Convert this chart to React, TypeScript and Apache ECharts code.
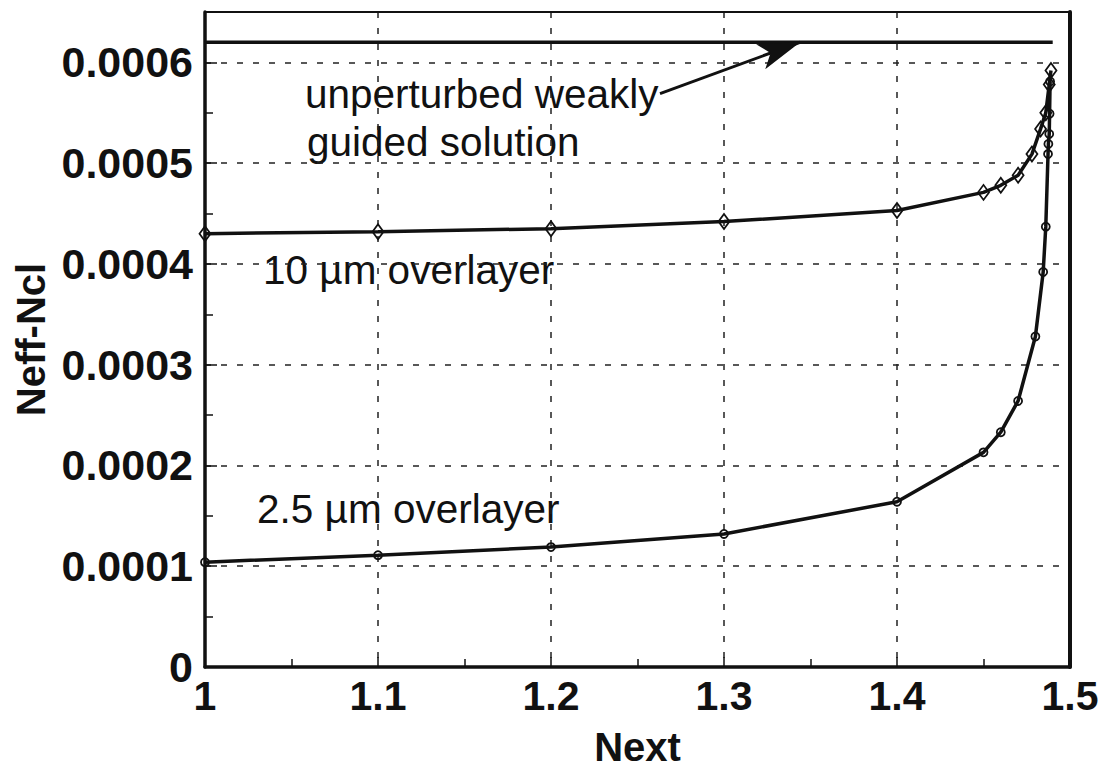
import React, { useEffect, useRef } from "react";
import * as echarts from "echarts";

// ---- data ----
const xTickLabels = ["1", "1.1", "1.2", "1.3", "1.4", "1.5"];
const yTickLabels = ["0", "0.0001", "0.0002", "0.0003", "0.0004", "0.0005", "0.0006"];

const unperturbedX = [1, 1.49];
const unperturbedY = [0.00062, 0.00062];

const overlayer10X = [1, 1.1, 1.2, 1.3, 1.4, 1.45, 1.46, 1.47, 1.478, 1.483, 1.486, 1.488, 1.489];
const overlayer10Y = [0.00043, 0.000432, 0.000435, 0.000442, 0.000453, 0.000471, 0.000478, 0.000488, 0.000509, 0.000534, 0.00055, 0.000578, 0.000592];

const overlayer25X = [1, 1.1, 1.2, 1.3, 1.4, 1.45, 1.46, 1.47, 1.48, 1.4845, 1.486, 1.4873, 1.4875, 1.488, 1.4882, 1.4885];
const overlayer25Y = [0.000104, 0.000111, 0.000119, 0.000132, 0.000164, 0.000213, 0.000233, 0.000264, 0.000328, 0.000392, 0.000437, 0.000509, 0.000519, 0.000529, 0.000549, 0.000581];

const arrowFrom = [1.263, 0.000569];
const arrowTo = [1.344, 0.00062];

const annotationTexts = ["unperturbed weakly", "guided solution", "10 \u00b5m overlayer", "2.5 \u00b5m overlayer"];

const INK = "#111";
const FONT = "'Liberation Sans', Arial, Helvetica, sans-serif";

const zip = (xs: number[], ys: number[]) => xs.map((x, i) => [x, ys[i]]);

export default function App() {
  const ref = useRef<HTMLDivElement>(null);

  useEffect(() => {
    if (!ref.current) return;
    const chart = echarts.init(ref.current, undefined, { renderer: "svg" });

    const textStyle = (s: string, x: number, y: number) => ({
      type: "text",
      left: x,
      top: y,
      style: {
        text: s,
        fill: INK,
        font: `normal 40.5px ${FONT}`,
        textVerticalAlign: "middle",
      },
      silent: true,
    });

    chart.setOption({
      animation: false,
      backgroundColor: "#fff",
      grid: { left: 205, right: 32, top: 12, bottom: 110, containLabel: false },
      xAxis: [
        {
          type: "value",
          min: 1,
          max: 1.5,
          interval: 0.1,
          position: "bottom",
          name: "Next",
          nameLocation: "middle",
          nameGap: 60,
          nameTextStyle: { fontFamily: FONT, fontWeight: "bold", fontSize: 40, color: INK },
          axisLine: { show: true, onZero: false, lineStyle: { color: INK, width: 3.5 } },
          axisTick: { show: true, inside: true, length: 10, lineStyle: { color: INK, width: 1.5 } },
          minorTick: { show: true, splitNumber: 2, length: 8, lineStyle: { color: INK, width: 1.5 } },
          splitLine: { show: true, lineStyle: { color: "#222", width: 1.5, type: [6, 10] } },
          axisLabel: {
            margin: 8,
            fontFamily: FONT,
            fontWeight: "bold",
            fontSize: 41,
            color: INK,
            formatter: (v: number) => xTickLabels[Math.round((v - 1) * 10)] ?? "",
          },
        },
        {
          type: "value",
          min: 1,
          max: 1.5,
          position: "top",
          axisLine: { show: true, onZero: false, lineStyle: { color: INK, width: 2 } },
          axisTick: { show: false },
          axisLabel: { show: false },
          splitLine: { show: false },
        },
      ],
      yAxis: [
        {
          type: "value",
          min: 0,
          max: 0.00065,
          interval: 0.0001,
          position: "left",
          name: "Neff-Ncl",
          nameLocation: "middle",
          nameRotate: 90,
          nameGap: 154,
          nameTextStyle: { fontFamily: FONT, fontWeight: "bold", fontSize: 40, color: INK },
          axisLine: { show: true, onZero: false, lineStyle: { color: INK, width: 3.5 } },
          axisTick: { show: true, inside: true, length: 12, lineStyle: { color: INK, width: 1.5 } },
          minorTick: { show: true, splitNumber: 2, length: 8, lineStyle: { color: INK, width: 1.5 } },
          splitLine: { show: true, lineStyle: { color: "#222", width: 1.5, type: [6, 10] } },
          axisLabel: {
            margin: 12,
            showMaxLabel: false,
            fontFamily: FONT,
            fontWeight: "bold",
            fontSize: 43,
            color: INK,
            formatter: (v: number) => {
              const i = Math.round(v / 0.0001);
              return Math.abs(v - i * 0.0001) < 1e-9 ? yTickLabels[i] ?? "" : "";
            },
          },
        },
        {
          type: "value",
          min: 0,
          max: 0.00065,
          position: "right",
          axisLine: { show: true, onZero: false, lineStyle: { color: INK, width: 4 } },
          axisTick: { show: false },
          axisLabel: { show: false },
          splitLine: { show: false },
        },
      ],
      series: [
        {
          type: "line",
          name: "unperturbed weakly guided solution",
          data: zip(unperturbedX, unperturbedY),
          showSymbol: false,
          symbol: "none",
          lineStyle: { color: INK, width: 3.5 },
          markLine: {
            silent: true,
            symbol: ["none", "arrow"],
            symbolSize: [20, 42],
            label: { show: false },
            lineStyle: { color: INK, width: 3, type: "solid" },
            data: [[{ coord: arrowFrom }, { coord: arrowTo }]],
          },
        },
        {
          type: "line",
          name: "10 \u00b5m overlayer",
          data: zip(overlayer10X, overlayer10Y),
          symbol: "diamond",
          symbolSize: [11, 15],
          showAllSymbol: true,
          lineStyle: { color: INK, width: 3.5 },
          itemStyle: { color: "rgba(255,255,255,0)", borderColor: INK, borderWidth: 1.8 },
        },
        {
          type: "line",
          name: "2.5 \u00b5m overlayer",
          data: zip(overlayer25X, overlayer25Y),
          symbol: "circle",
          symbolSize: 8,
          showAllSymbol: true,
          lineStyle: { color: INK, width: 3.5 },
          itemStyle: { color: "rgba(255,255,255,0)", borderColor: INK, borderWidth: 1.8 },
        },
      ],
      graphic: [
        textStyle(annotationTexts[0], 305, 96 - 23),
        textStyle(annotationTexts[1], 307, 144 - 23),
        textStyle(annotationTexts[2], 263, 272 - 23),
        textStyle(annotationTexts[3], 257, 511 - 23),
      ],
    });

    return () => chart.dispose();
  }, []);

  return (
    <div
      ref={ref}
      style={{ position: "fixed", left: 0, top: 0, width: 1102, height: 777, background: "#fff" }}
    />
  );
}
